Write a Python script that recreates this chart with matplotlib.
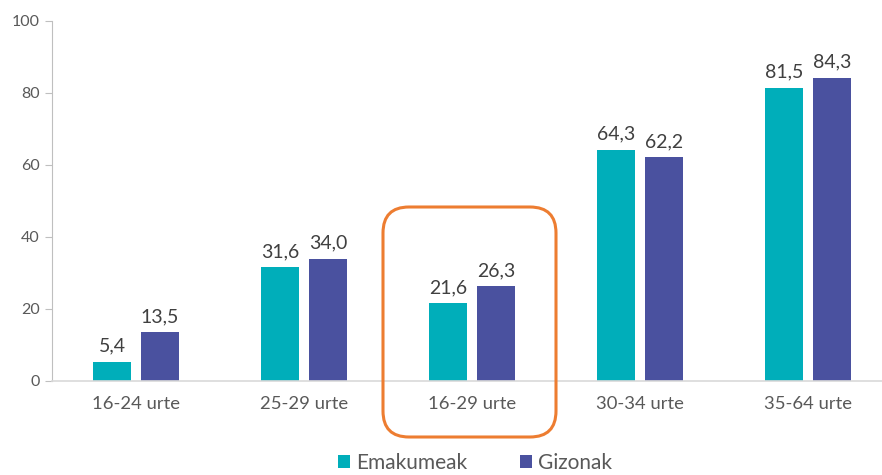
import numpy as np
import matplotlib.pyplot as plt
from matplotlib.patches import FancyBboxPatch

categories = ["16-24 urte", "25-29 urte", "16-29 urte", "30-34 urte", "35-64 urte"]
emakumeak = [5.4, 31.6, 21.6, 64.3, 81.5]
gizonak = [13.5, 34.0, 26.3, 62.2, 84.3]
labels_e = ["5,4", "31,6", "21,6", "64,3", "81,5"]
labels_g = ["13,5", "34,0", "26,3", "62,2", "84,3"]

teal = "#00AEBA"
purple = "#4A519F"
txt = "#595959"

plt.rcParams['font.family'] = ['Lato', 'DejaVu Sans']

fig = plt.figure(figsize=(8.82, 4.75), dpi=100)
ax = fig.add_axes([52 / 882, 1 - 381 / 475, 840 / 882, 360 / 475])

x = np.arange(len(categories))
w = 0.222
off = 0.143
b1 = ax.bar(x - off, emakumeak, w, color=teal, label="Emakumeak")
b2 = ax.bar(x + off, gizonak, w, color=purple, label="Gizonak")

for bars, labs in ((b1, labels_e), (b2, labels_g)):
    for r, s in zip(bars, labs):
        ax.annotate(s, (r.get_x() + r.get_width() / 2, r.get_height()),
                    xytext=(0, 5), textcoords="offset points",
                    ha="center", va="bottom", fontsize=14, color="#404040")

ax.set_xlim(-0.5, 4.5)
ax.set_ylim(0, 100)
ax.set_yticks(range(0, 101, 20))
ax.set_xticks(x)
ax.set_xticklabels(categories, fontsize=13.3, color=txt)
ax.tick_params(axis="x", length=0, pad=11)
ax.tick_params(axis="y", length=5, color="#BFBFBF", labelsize=11.5, labelcolor=txt, pad=4)

for s in ("top", "right"):
    ax.spines[s].set_visible(False)
ax.spines["left"].set_color("#BFBFBF")
ax.spines["bottom"].set_color("#D9D9D9")
ax.spines["bottom"].set_linewidth(1.2)

# highlight box around 16-29 group (pixel coords)
box = FancyBboxPatch((383 / 100, (475 - 437) / 100), 173 / 100, 230 / 100,
                     boxstyle="round,pad=0,rounding_size=0.26",
                     transform=fig.dpi_scale_trans, fill=False,
                     edgecolor="#ED7D31", linewidth=2.2)
fig.patches.append(box)

fig.legend(handles=[b1, b2], loc="center", bbox_to_anchor=(475 / 882, 12 / 475),
           ncol=2, frameon=False, fontsize=15, labelcolor=txt,
           handlelength=0.6, handleheight=0.6, handletextpad=0.3, columnspacing=2.5)

fig.savefig("out.png", dpi=100)
